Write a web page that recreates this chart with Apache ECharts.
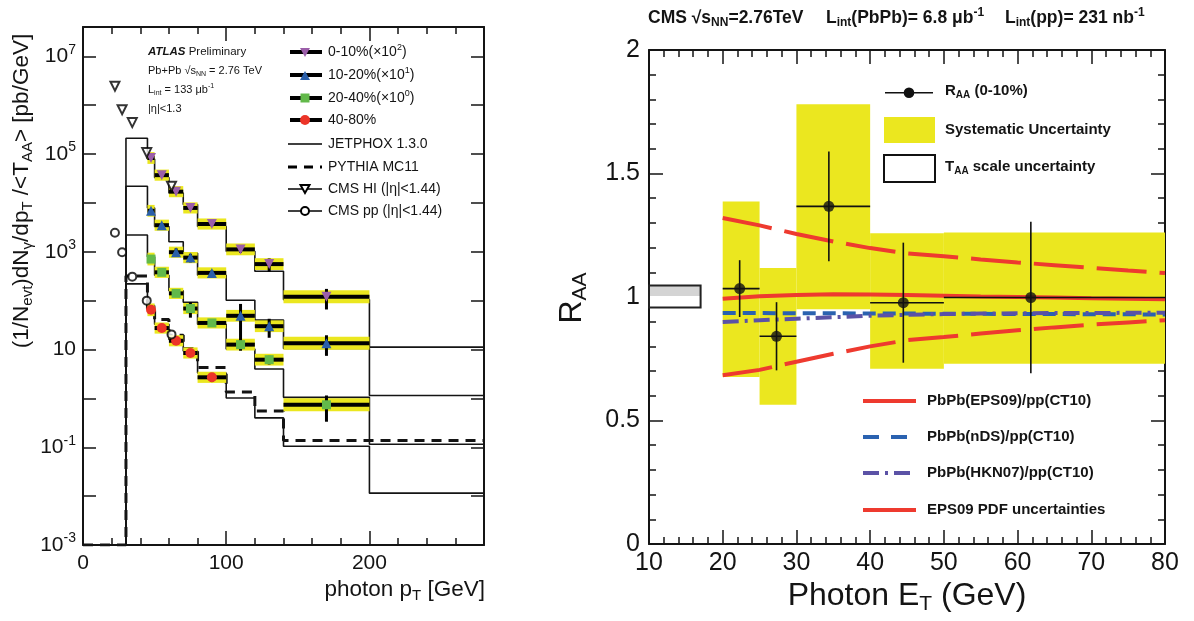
<!DOCTYPE html>
<html><head><meta charset="utf-8">
<script src="https://cdn.jsdelivr.net/npm/echarts@6/dist/echarts.min.js"></script>
<style>html,body{margin:0;padding:0;background:#fff}#c{width:1194px;height:621px}</style>
</head><body><div id="c"></div>
<script>
// ================= LEFT PANEL DATA (ATLAS) =================
const leftBinLo = [45, 50, 60, 70, 80, 100, 120, 140];
const leftBinHi = [50, 60, 70, 80, 100, 120, 140, 200];
const leftBinX  = [47.5, 55, 65, 75, 90, 110, 130, 170];
const c0_10  = [8.3e4, 3.7e4, 1.7e4, 7.9e3, 3.7e3, 1.12e3, 5.6e2, 1.2e2];
const c10_20 = [6.9e3, 3.5e3, 9.8e2, 7.6e2, 3.7e2, 49, 30, 13.5];
const c20_40 = [7.1e2, 3.8e2, 1.41e2, 69, 35, 12.6, 6.2, 0.74];
const c40_80 = [65, 27.5, 15.1, 8.5, 2.7];
const stat0_10  = [0.06, 0.06, 0.08, 0.1, 0.1, 0.15, 0.3, 0.45];
const stat10_20 = [0.08, 0.1, 0.2, 0.2, 0.12, 0.75, 0.42, 0.45];
const stat20_40 = [0.1, 0.1, 0.15, 0.35, 0.15, 0.25, 0.2, 0.55];
const stat40_80 = [0.1, 0.1, 0.12, 0.15, 0.2];
const sys0_10  = [0.32, 0.3, 0.3, 0.3, 0.3, 0.32, 0.32, 0.36];
const sys10_20 = [0.32, 0.3, 0.3, 0.3, 0.3, 0.32, 0.32, 0.36];
const sys20_40 = [0.35, 0.3, 0.3, 0.3, 0.3, 0.32, 0.32, 0.36];
const sys40_80 = [0.35, 0.3, 0.3, 0.3, 0.3];
// theory histograms, bin edges
const theoryEdges = [30, 45, 50, 60, 70, 80, 100, 120, 140, 200, 280];
const jet0_10  = [2.1e5, 7.9e4, 3.3e4, 1.6e4, 9.3e3, 3.3e3, 1.02e3, 4.0e2, 1.05e2, 11.2];
const jet10_20 = [2.2e4, 7.9e3, 3.3e3, 1.6e3, 9.3e2, 3.3e2, 1.02e2, 40, 10.5, 1.15];
const jet20_40 = [2.2e3, 7.9e2, 3.3e2, 1.6e2, 93, 33, 10.2, 4.0, 1.05, 0.115];
const jet40_80 = [2.2e2, 79, 33, 16, 9.3, 3.3, 1.02, 0.40, 0.105, 0.0115];
const pythia   = [3.2e2, 63, 41, 19.5, 10.5, 4.3, 1.35, 0.55, 0.138, 0.138];
// CMS comparison points
const cmsX  = [22.3, 27.3, 34.4, 44.5, 61.8];
const cmsHI = [2.45e6, 8.1e5, 4.4e5, 1.07e5, 2.2e4];
const cmsPP = [2450, 980, 310, 100, 20.4];
// log-axis ticks and labels
const logTicks  = [1e-3, 1e-2, 1e-1, 1, 10, 1e2, 1e3, 1e4, 1e5, 1e6, 1e7];
const logLabels = [1e-3, 1e-1, 10, 1e3, 1e5, 1e7];

// ================= RIGHT PANEL DATA (CMS R_AA) =================
const rBinLo = [20, 25, 30, 40, 50];
const rBinHi = [25, 30, 40, 50, 80];
const rX     = [22.3, 27.3, 34.4, 44.5, 61.8];
const rAA    = [1.034, 0.841, 1.367, 0.977, 0.998];
const rStat  = [0.115, 0.138, 0.222, 0.243, 0.307];
const rSysLo = [0.676, 0.564, 0.950, 0.710, 0.730];
const rSysHi = [1.387, 1.117, 1.780, 1.258, 1.261];
const taaX   = [10, 17];
const taaR   = [0.957, 1.047];
const thX    = [20, 25, 30, 35, 40, 45, 50, 55, 60, 65, 70, 75, 80];
const eps09   = [0.993, 1.003, 1.008, 1.011, 1.010, 1.008, 1.005, 1.002, 1.000, 0.998, 0.995, 0.993, 0.991];
const eps09Up = [1.32, 1.29, 1.255, 1.225, 1.198, 1.177, 1.165, 1.152, 1.14, 1.129, 1.118, 1.107, 1.097];
const eps09Lo = [0.683, 0.705, 0.738, 0.77, 0.80, 0.825, 0.838, 0.852, 0.865, 0.877, 0.888, 0.897, 0.906];
const nds     = [0.935, 0.935, 0.934, 0.934, 0.933, 0.933, 0.932, 0.932, 0.931, 0.931, 0.930, 0.930, 0.929];
const hkn07   = [0.899, 0.906, 0.912, 0.918, 0.924, 0.928, 0.931, 0.933, 0.934, 0.935, 0.935, 0.936, 0.936];

// ================= STYLE =================
const FONT = "'Liberation Sans', Arial, Helvetica, sans-serif";
const INK = '#141414';
const YEL = '#ebe71f';
const RED = '#ee3a2f', BLUE = '#2a62b0', PURP = '#5b52a6';
const chart = echarts.init(document.getElementById('c'));

function richSet(size, bold) {
  const w = bold ? 'bold' : 'normal';
  const s = Math.round(size * 0.66);
  return {
    n:   {fontSize: size, fontFamily: FONT, fontWeight: w, fill: INK, color: INK},
    sub: {fontSize: s, fontFamily: FONT, fontWeight: w, fill: INK, color: INK, padding: [Math.round(size * 0.5), 0, 0, 0]},
    sup: {fontSize: s, fontFamily: FONT, fontWeight: w, fill: INK, color: INK, padding: [0, 0, Math.round(size * 0.6), 0]},
    bi:  {fontSize: size, fontFamily: FONT, fontWeight: 'bold', fontStyle: 'italic', fill: INK, color: INK}
  };
}
const G = [];
function text(x, y, t, size, bold, align, rot) {
  const el = {
    type: 'text', x: x, y: y, z: 100,
    style: {text: t, rich: richSet(size, bold), fontSize: size, fontFamily: FONT, fontWeight: bold ? 'bold' : 'normal',
            fill: INK, align: align || 'left', verticalAlign: 'middle'}
  };
  if (rot) el.rotation = rot;
  G.push(el);
}
function gline(x1, y1, x2, y2, color, w, dash) {
  G.push({type: 'line', z: 100, shape: {x1, y1, x2, y2}, style: {stroke: color, lineWidth: w, lineDash: dash || null}});
}

// ---------- axes ----------
function xAx(grid, pos, min, max, interval, tickLen, labels, lineShow, minor) {
  return {
    type: 'value', gridIndex: grid, position: pos, min, max, interval,
    axisLine: {show: lineShow, onZero: false, lineStyle: {color: INK, width: 2}},
    axisTick: {show: true, inside: true, length: tickLen, lineStyle: {color: INK, width: 1.5}},
    minorTick: minor ? {show: true, splitNumber: minor, length: 7, lineStyle: {color: INK, width: 1.5}} : {show: false},
    axisLabel: labels ? Object.assign({show: true, color: INK, fontFamily: FONT}, labels) : {show: false},
    splitLine: {show: false}
  };
}
const xAxis = [
  xAx(0, 'bottom', 0, 280, 100, 14, {fontSize: 21, margin: 8, showMaxLabel: false}, true, 0),
  xAx(0, 'top', 0, 280, 100, 14, null, true, 0),
  xAx(0, 'top', 0, 280, 20, 7, null, false, 0),
  xAx(0, 'bottom', 0, 280, 20, 7, null, false, 0),
  xAx(1, 'bottom', 10, 80, 10, 14, {fontSize: 25, margin: 7}, true, 5),
  xAx(1, 'top', 10, 80, 10, 14, null, true, 5)
];
const logFmt = v => {
  const l = Math.log10(v), e = Math.round(l);
  if (Math.abs(l - e) > 1e-6) return '';
  if (e === 1) return '{b|10}';
  return '{b|10}{s|' + e + '}';
};
function yLog(pos, labels) {
  return {
    type: 'log', logBase: 10, gridIndex: 0, position: pos, min: 1e-3, max: 3.98e7,
    axisLine: {show: true, onZero: false, lineStyle: {color: INK, width: 2}},
    axisTick: {show: true, inside: true, length: 13, customValues: logTicks, lineStyle: {color: INK, width: 1.5}},
    axisLabel: labels ? {show: true, formatter: logFmt, margin: 7, customValues: logLabels,
      rich: {b: {fontSize: 21, fontFamily: FONT, color: INK},
             s: {fontSize: 14, fontFamily: FONT, color: INK, padding: [0, 0, 13, 0]}}} : {show: false},
    splitLine: {show: false}
  };
}
function yLin(pos, labels) {
  return {
    type: 'value', gridIndex: 1, position: pos, min: 0, max: 2, interval: 0.5,
    axisLine: {show: true, onZero: false, lineStyle: {color: INK, width: 2}},
    axisTick: {show: true, inside: true, length: 14, lineStyle: {color: INK, width: 1.5}},
    minorTick: {show: true, splitNumber: 5, length: 7, lineStyle: {color: INK, width: 1.5}},
    axisLabel: labels ? {show: true, fontSize: 25, fontFamily: FONT, color: INK, margin: 9} : {show: false},
    splitLine: {show: false}
  };
}
const yAxis = [yLog('left', true), yLog('right', false), yLin('left', true), yLin('right', false)];

// ---------- left series ----------
const series = [];
const L = {xAxisIndex: 0, yAxisIndex: 0};
function stepData(vals, start) {
  const d = start ? start.slice() : [[theoryEdges[0], 1e-3]];
  vals.forEach((v, i) => d.push([theoryEdges[i], v]));
  d.push([theoryEdges[theoryEdges.length - 1], vals[vals.length - 1]]);
  return d;
}
[jet0_10, jet10_20, jet20_40, jet40_80].forEach(arr => {
  series.push(Object.assign({type: 'line', step: 'end', data: stepData(arr), showSymbol: false, symbol: 'none',
    lineStyle: {color: INK, width: 1.6}, z: 1, silent: true, clip: true}, L));
});
series.push(Object.assign({type: 'line', step: 'end', data: stepData(pythia, [[0, 1e-3], [30, 1e-3]]), symbol: 'none',
  lineStyle: {color: INK, width: 3, type: [10, 7]}, z: 1, silent: true, clip: true}, L));

const cents = [
  {v: c0_10, st: stat0_10, sy: sys0_10, color: '#9b5ea9', symbol: 'triangle', rot: 180, size: 10},
  {v: c10_20, st: stat10_20, sy: sys10_20, color: '#2a5faa', symbol: 'triangle', rot: 0, size: 10},
  {v: c20_40, st: stat20_40, sy: sys20_40, color: '#62b94a', symbol: 'rect', rot: 0, size: 9},
  {v: c40_80, st: stat40_80, sy: sys40_80, color: '#ec3428', symbol: 'circle', rot: 0, size: 10}
];
function rectItem(fill) {
  return function (params, api) {
    const p0 = api.coord([api.value(0), api.value(3)]);
    const p1 = api.coord([api.value(1), api.value(2)]);
    return {type: 'rect', shape: {x: p0[0], y: p0[1], width: p1[0] - p0[0], height: p1[1] - p0[1]}, style: {fill: fill}};
  };
}
cents.forEach(c => {
  series.push(Object.assign({type: 'custom', z: 2, silent: true, renderItem: rectItem(YEL),
    data: c.v.map((v, i) => [leftBinLo[i], leftBinHi[i], v / (1 + c.sy[i]), v * (1 + c.sy[i])])}, L));
});
cents.forEach(c => {
  series.push(Object.assign({type: 'custom', z: 3, silent: true,
    renderItem: function (params, api) {
      const a = api.coord([api.value(0), api.value(2)]);
      const b = api.coord([api.value(1), api.value(2)]);
      const cx = api.coord([api.value(5), api.value(3)]);
      const cy = api.coord([api.value(5), api.value(4)]);
      return {type: 'group', children: [
        {type: 'line', shape: {x1: a[0], y1: a[1], x2: b[0], y2: b[1]}, style: {stroke: '#000', lineWidth: 4}},
        {type: 'line', shape: {x1: cx[0], y1: cx[1], x2: cy[0], y2: cy[1]}, style: {stroke: '#000', lineWidth: 3}}
      ]};
    },
    data: c.v.map((v, i) => [leftBinLo[i], leftBinHi[i], v, v * (1 - c.st[i]), v * (1 + c.st[i]), leftBinX[i]])}, L));
});
cents.forEach(c => {
  series.push(Object.assign({type: 'scatter', z: 4, silent: true, symbol: c.symbol, symbolRotate: c.rot, symbolSize: c.size,
    itemStyle: {color: c.color, opacity: 1}, data: c.v.map((v, i) => [leftBinX[i], v])}, L));
});
series.push(Object.assign({type: 'scatter', z: 4, silent: true, symbol: 'triangle', symbolRotate: 180, symbolSize: 9,
  itemStyle: {color: '#fff', borderColor: '#000', borderWidth: 2}, data: cmsX.map((x, i) => [x, cmsHI[i]])}, L));
series.push(Object.assign({type: 'scatter', z: 4, silent: true, symbol: 'circle', symbolSize: 8,
  itemStyle: {color: '#fff', borderColor: '#000', borderWidth: 2}, data: cmsX.map((x, i) => [x, cmsPP[i]])}, L));

// ---------- right series ----------
const R = {xAxisIndex: 4, yAxisIndex: 2};
series.push(Object.assign({type: 'custom', z: 2, silent: true, renderItem: rectItem(YEL),
  data: rBinLo.map((lo, i) => [lo, rBinHi[i], rSysLo[i], rSysHi[i]])}, R));
series.push(Object.assign({type: 'custom', z: 3, silent: true,
  renderItem: function (params, api) {
    const p0 = api.coord([api.value(0), api.value(3)]);
    const p1 = api.coord([api.value(1), api.value(2)]);
    const w = p1[0] - p0[0], h = p1[1] - p0[1];
    return {type: 'group', children: [
      {type: 'rect', shape: {x: p0[0], y: p0[1], width: w, height: h}, style: {fill: '#fff'}},
      {type: 'rect', shape: {x: p0[0], y: p0[1], width: w, height: h * 0.48}, style: {fill: '#d4d4d4'}},
      {type: 'rect', shape: {x: p0[0], y: p0[1], width: w, height: h}, style: {fill: null, stroke: '#222', lineWidth: 2}}
    ]};
  },
  data: [[taaX[0], taaX[1], taaR[0], taaR[1]]]}, R));
function thLine(vals, color, width, type) {
  series.push(Object.assign({type: 'line', z: 3, silent: true, symbol: 'none', data: thX.map((x, i) => [x, vals[i]]),
    lineStyle: {color, width, type}}, R));
}
thLine(eps09Up, RED, 4, [50, 13]);
thLine(eps09Lo, RED, 4, [50, 13]);
thLine(nds, BLUE, 4, [13, 7]);
thLine(hkn07, PURP, 4, [16, 6, 3, 6]);
thLine(eps09, RED, 4, 'solid');
series.push(Object.assign({type: 'custom', z: 5, silent: true,
  renderItem: function (params, api) {
    const a = api.coord([api.value(0), api.value(3)]);
    const b = api.coord([api.value(1), api.value(3)]);
    const c = api.coord([api.value(2), api.value(3) - api.value(4)]);
    const d = api.coord([api.value(2), api.value(3) + api.value(4)]);
    return {type: 'group', children: [
      {type: 'line', shape: {x1: a[0], y1: a[1], x2: b[0], y2: b[1]}, style: {stroke: '#111', lineWidth: 1.6}},
      {type: 'line', shape: {x1: c[0], y1: c[1], x2: d[0], y2: d[1]}, style: {stroke: '#111', lineWidth: 1.6}}
    ]};
  },
  data: rX.map((x, i) => [rBinLo[i], rBinHi[i], x, rAA[i], rStat[i]])}, R));
series.push(Object.assign({type: 'scatter', z: 6, silent: true, symbol: 'circle', symbolSize: 11,
  itemStyle: {color: '#111'}, data: rX.map((x, i) => [x, rAA[i]])}, R));

// ---------- texts / legends ----------
text(22, 191, '{n|(1/N}{sub|evt}{n|)dN}{sub|γ}{n|/dp}{sub|T}{n| /<T}{sub|AA}{n|> [pb/GeV]}', 22.5, false, 'center', Math.PI / 2);
text(485, 590, '{n|photon p}{sub|T}{n| [GeV]}', 22.5, false, 'right');
// ATLAS block
text(148, 52, '{bi|ATLAS}{n| Preliminary}', 11.5, false);
text(148, 71, '{n|Pb+Pb √}{n|s}{sub|NN}{n| = 2.76 TeV}', 11, false);
text(148, 90, '{n|L}{sub|int}{n| = 133 μb}{sup|-1}', 11, false);
text(148, 109, '{n||η|<1.3}', 11, false);
// left legend
const legY = [52, 75, 98, 120, 144, 167, 189, 211];
const legTxt = ['{n|0-10%(×10}{sup|2}{n|)}', '{n|10-20%(×10}{sup|1}{n|)}', '{n|20-40%(×10}{sup|0}{n|)}', '{n|40-80%}',
  '{n|JETPHOX 1.3.0}', '{n|PYTHIA MC11}', '{n|CMS HI (|η|<1.44)}', '{n|CMS pp (|η|<1.44)}'];
legTxt.forEach((t, i) => text(328, legY[i], t, 14, false));
for (let i = 0; i < 4; i++) gline(290, legY[i], 322, legY[i], '#000', 4);
G.push({type: 'polygon', z: 101, shape: {points: [[300, 48], [310, 48], [305, 57]]}, style: {fill: '#9b5ea9'}});
G.push({type: 'polygon', z: 101, shape: {points: [[300, 80], [310, 80], [305, 71]]}, style: {fill: '#2a5faa'}});
G.push({type: 'rect', z: 101, shape: {x: 300.5, y: 93.5, width: 9, height: 9}, style: {fill: '#62b94a'}});
G.push({type: 'circle', z: 101, shape: {cx: 305, cy: 120, r: 5}, style: {fill: '#ec3428'}});
gline(288, legY[4], 322, legY[4], '#000', 1.6);
gline(288, legY[5], 322, legY[5], '#000', 3, [9, 7]);
gline(288, legY[6], 322, legY[6], '#000', 1.6);
G.push({type: 'polygon', z: 101, shape: {points: [[300.5, 185], [309.5, 185], [305, 193]]}, style: {fill: '#fff', stroke: '#000', lineWidth: 2}});
gline(288, legY[7], 322, legY[7], '#000', 1.6);
G.push({type: 'circle', z: 101, shape: {cx: 305, cy: 211, r: 4}, style: {fill: '#fff', stroke: '#000', lineWidth: 2}});

// right titles
text(648, 18, '{n|CMS √}{n|s}{sub|NN}{n|=2.76TeV}', 17.5, true);
text(826, 18, '{n|L}{sub|int}{n|(PbPb)= 6.8 μb}{sup|-1}', 17.5, true);
text(1005, 18, '{n|L}{sub|int}{n|(pp)= 231 nb}{sup|-1}', 17.5, true);
text(572, 298, '{n|R}{sub|AA}', 32, false, 'center', Math.PI / 2);
text(907, 596, '{n|Photon E}{sub|T}{n| (GeV)}', 32, false, 'center');
// right top legend
gline(885, 92.7, 933, 92.7, '#111', 1.6);
G.push({type: 'circle', z: 101, shape: {cx: 909, cy: 92.7, r: 5.3}, style: {fill: '#111'}});
text(945, 91, '{n|R}{sub|AA}{n| (0-10%)}', 15, true);
G.push({type: 'rect', z: 100, shape: {x: 884, y: 117, width: 51, height: 26}, style: {fill: YEL}});
text(945, 130, '{n|Systematic Uncertainty}', 15, true);
G.push({type: 'rect', z: 100, shape: {x: 884, y: 155, width: 51, height: 27}, style: {fill: '#fff', stroke: '#111', lineWidth: 2}});
text(945, 167, '{n|T}{sub|AA}{n| scale uncertainty}', 15, true);
// right bottom legend
gline(863, 401, 916, 401, RED, 4);
text(927, 401, '{n|PbPb(EPS09)/pp(CT10)}', 15, true);
gline(863, 437, 916, 437, BLUE, 4, [16, 12]);
text(927, 437, '{n|PbPb(nDS)/pp(CT10)}', 15, true);
gline(863, 473, 916, 473, PURP, 4, [16, 6, 3, 6]);
text(927, 473, '{n|PbPb(HKN07)/pp(CT10)}', 15, true);
gline(863, 510, 916, 510, RED, 4);
text(927, 510, '{n|EPS09 PDF uncertainties}', 15, true);

chart.setOption({
  animation: false,
  backgroundColor: '#fff',
  grid: [
    {left: 83, top: 27, width: 401, height: 518, containLabel: false},
    {left: 649, top: 50, width: 516, height: 494, containLabel: false}
  ],
  xAxis, yAxis, series,
  graphic: {elements: G}
});
</script></body></html>
